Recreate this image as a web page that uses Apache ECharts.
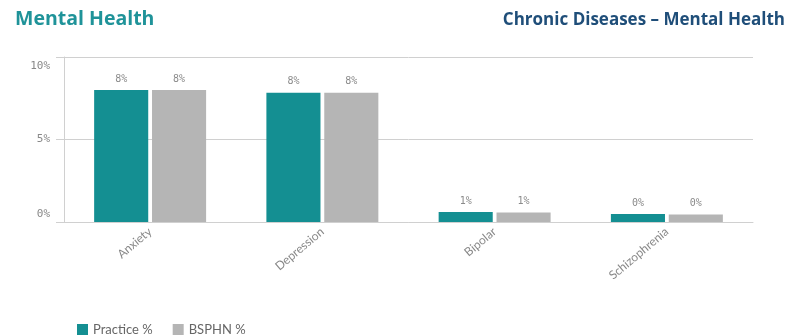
<!DOCTYPE html>
<html><head><meta charset="utf-8">
<script src="https://cdn.jsdelivr.net/npm/echarts@6/dist/echarts.min.js"></script>
<style>html,body{margin:0;padding:0;background:#fff}#c{width:801px;height:336px}</style>
</head><body><div id="c"></div>
<script>
const categories = ['Anxiety', 'Depression', 'Bipolar', 'Schizophrenia'];
const practice = [8.0, 7.83, 0.6, 0.48];
const bsphn = [8.0, 7.83, 0.58, 0.46];
const yTicks = [0, 5, 10];

const chart = echarts.init(document.getElementById('c'), null, {renderer: 'canvas'});
const labelCfg = {
  show: true, position: 'top', distance: 6,
  color: '#8a8a8a', fontFamily: 'DejaVu Sans Mono', fontSize: 10,
  formatter: p => Math.round(p.value) + '%'
};
const yMin = yTicks[0], yMax = yTicks[yTicks.length - 1];
chart.setOption({
  animation: false,
  title: [
    {text: 'Mental Health', left: 10, top: 4,
     textStyle: {color: '#1f9399', fontFamily: 'Open Sans', fontWeight: 'bold', fontSize: 19.5}},
    {text: 'Chronic Diseases – Mental Health', right: 11, top: 7,
     textStyle: {color: '#1f4e79', fontFamily: 'Open Sans', fontWeight: 'bold', fontSize: 17}}
  ],
  legend: {
    left: 72, top: 318, itemWidth: 11, itemHeight: 11, itemGap: 20, icon: 'rect',
    textStyle: {color: '#666', fontFamily: 'Lato', fontSize: 13},
    data: ['Practice %', 'BSPHN %']
  },
  grid: {left: 64, right: 48, top: 57, bottom: 114},
  xAxis: {
    type: 'category', data: categories,
    axisLine: {lineStyle: {color: '#d0d0d0'}},
    axisTick: {show: false},
    axisLabel: {rotate: 40, color: '#888', fontFamily: 'Lato', fontSize: 12, margin: 8}
  },
  yAxis: {
    type: 'value', min: yMin, max: yMax, interval: yTicks[1] - yTicks[0],
    axisLine: {show: true, lineStyle: {color: '#d0d0d0'}},
    axisTick: {show: true, length: 8, lineStyle: {color: '#d0d0d0'}},
    splitLine: {lineStyle: {color: '#d0d0d0'}},
    axisLabel: {
      color: '#888', fontFamily: 'DejaVu Sans Mono', fontSize: 11, margin: 14,
      verticalAlignMinLabel: 'bottom', verticalAlignMaxLabel: 'top',
      formatter: v => v === yMax ? '{t|' + v + '%}' : (v === yMin ? '{b|' + v + '%}' : v + '%'),
      rich: {
        t: {color: '#888', fontFamily: 'DejaVu Sans Mono', fontSize: 11, padding: [4, 0, 0, 0]},
        b: {color: '#888', fontFamily: 'DejaVu Sans Mono', fontSize: 11, padding: [0, 0, 2, 0]}
      }
    }
  },
  series: [
    {name: 'Practice %', type: 'bar', data: practice, barGap: '7%', barCategoryGap: '35%',
     itemStyle: {color: '#148f92'}, label: labelCfg},
    {name: 'BSPHN %', type: 'bar', data: bsphn,
     itemStyle: {color: '#b5b5b5'}, label: labelCfg}
  ]
});
</script></body></html>
